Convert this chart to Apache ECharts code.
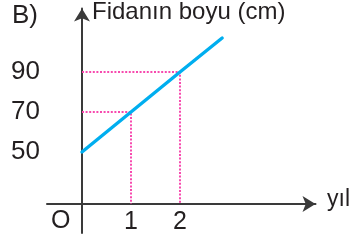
<!DOCTYPE html>
<html>
<head>
<meta charset="utf-8">
<script src="https://cdn.jsdelivr.net/npm/echarts@6/dist/echarts.min.js"></script>
<style>html,body{margin:0;padding:0;background:#fff}#c{width:355px;height:241px}</style>
</head>
<body>
<div id="c"></div>
<script>
// Data
const years = [0, 1, 2, 2.86];
const heights = [50, 70, 90, 107];
const guideYears = [1, 2];
const guideHeights = [70, 90];
const yTicks = [50, 70, 90];
const xTicks = [1, 2];
const yBase = 24;    // value where the x-axis crosses the y-axis (axis break)
const yMinVal = 9.5, yMaxVal = 121.75;
const xMinVal = -0.714, xMaxVal = 4.765;

const chart = echarts.init(document.getElementById('c'), null, {renderer: 'canvas'});
const FONT = 'Liberation Sans, Arial, sans-serif';
const TXT = '#231f20';
const AX = '#3a3a3a';
const PINK = '#f74aae';

const series = [];
guideYears.forEach((gx, i) => {
  series.push({
    type: 'line', silent: true, symbol: 'none', z: 2,
    data: [[0, guideHeights[i]], [gx, guideHeights[i]], [gx, yBase]],
    lineStyle: {color: PINK, width: 2, type: [2, 1.6]}
  });
});
series.push({
  type: 'line', silent: true, symbol: 'none', z: 3,
  data: years.map((x, i) => [x, heights[i]]),
  lineStyle: {color: '#00aeef', width: 3.4, cap: 'round'}
});

chart.setOption({
  animation: false,
  grid: {left: 47, right: 39.5, top: 8.5, bottom: 8, containLabel: false},
  xAxis: {
    type: 'value', min: xMinVal, max: xMaxVal, offset: -29,
    axisLine: {show: true, onZero: false, lineStyle: {color: AX, width: 2},
      symbol: ['none', 'arrow'], symbolSize: [12, 13]},
    axisTick: {show: false}, splitLine: {show: false},
    axisLabel: {customValues: xTicks, fontFamily: FONT, fontSize: 25, color: TXT, margin: 6}
  },
  yAxis: {
    type: 'value', min: yMinVal, max: yMaxVal,
    axisLine: {show: true, onZero: true, lineStyle: {color: AX, width: 2},
      symbol: ['none', 'arrow'], symbolSize: [12, 13]},
    axisTick: {show: false}, splitLine: {show: false},
    axisLabel: {customValues: yTicks, fontFamily: FONT, fontSize: 26, color: TXT, margin: 7,
      padding: [9, 0, 0, 0]}
  },
  graphic: [
    {type: 'text', left: 12, top: 3, style: {text: 'B)', font: '26px ' + FONT, fill: TXT}},
    {type: 'text', left: 92, top: 0, style: {text: 'Fidanın boyu (cm)', font: '24px ' + FONT, fill: TXT}},
    {type: 'text', left: 327, top: 188, style: {text: 'yıl', font: '23px ' + FONT, fill: TXT}},
    {type: 'text', left: 51, top: 208.5, style: {text: 'O', font: '25px ' + FONT, fill: TXT}}
  ],
  series: series
});
</script>
</body>
</html>
